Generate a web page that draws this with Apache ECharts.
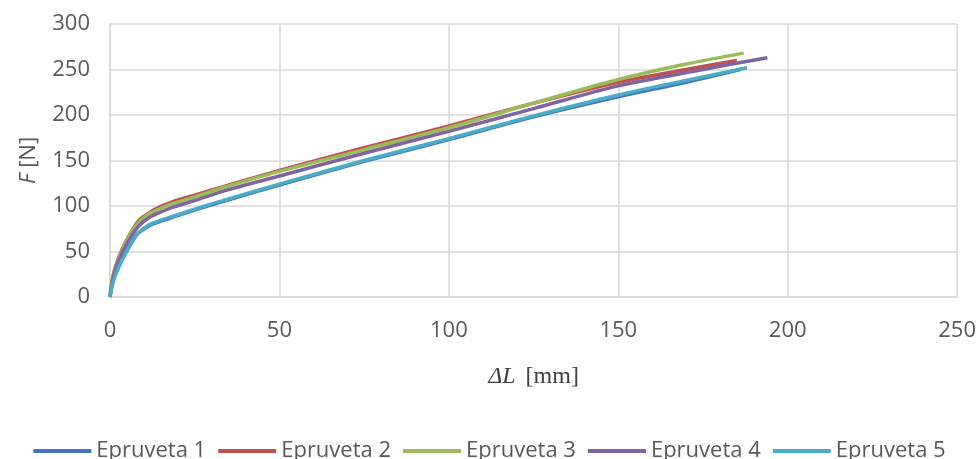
<!DOCTYPE html>
<html>
<head>
<meta charset="utf-8">
<script src="https://cdn.jsdelivr.net/npm/echarts@6/dist/echarts.min.js"></script>
<style>html,body{margin:0;padding:0;background:#fff;}#c{width:979px;height:459px;}</style>
</head>
<body>
<div id="c"></div>
<script>
const seriesNames = ['Epruveta 1', 'Epruveta 2', 'Epruveta 3', 'Epruveta 4', 'Epruveta 5'];
const xTicks = [0, 50, 100, 150, 200, 250];
const yTicks = [0, 50, 100, 150, 200, 250, 300];

const ep1 = [[0,0],[0.5,11],[1.5,24],[3.5,41],[6,58],[8.3,70],[11,77],[13.2,81],[18,87],[28,99],[37,109],[50,123],[75,149],[100,173],[125,198],[150,220],[170,236],[186,250]];
const ep2 = [[0,0],[0.5,15],[1.5,32],[3.5,52],[6,70],[8.5,84],[11,91],[13.5,97],[18,104],[25,112],[35,123],[50,139],[75,164],[100,188],[125,213],[150,236],[170,250],[185,260]];
const ep3 = [[0,0],[0.5,14],[1.5,31],[3.5,51],[6,69],[8.5,82],[11,90],[13.5,95],[18,102],[25,110],[35,122],[50,138],[75,162],[100,186],[125,213],[150,239],[170,256],[187,268]];
const ep4 = [[0,0],[0.5,13],[1.5,29],[3.5,48],[6,65],[8.5,78],[11,86],[13.5,91],[18,98],[25,106],[35,118],[50,133],[75,158],[100,182],[125,207],[150,232],[175,250],[194,263]];
const ep5 = [[0,0],[0.5,10],[1.5,23],[3.5,40],[6,57],[8.3,70],[11,78],[13.2,82],[18,88],[28,100],[37,110],[50,124],[75,150],[100,174],[125,199],[150,222],[170,238],[188,252]];
const seriesData = [ep1, ep2, ep3, ep4, ep5];
const colors = ['#4472C4', '#C0504D', '#9BBB59', '#8064A2', '#4BACC6'];

const chart = echarts.init(document.getElementById('c'), null, {renderer: 'canvas'});
const font = "'Open Sans', 'Liberation Sans', sans-serif";
chart.setOption({
  animation: false,
  color: colors,
  grid: {left: 110, right: 20, top: 24, bottom: 162, containLabel: false},
  legend: {
    data: seriesNames,
    left: 'center',
    top: 435,
    icon: 'rect',
    itemWidth: 58,
    itemHeight: 4,
    itemGap: 12,
    textStyle: {fontFamily: font, fontSize: 22, color: '#595959'}
  },
  xAxis: {
    type: 'value',
    min: xTicks[0], max: xTicks[xTicks.length - 1], interval: 50,
    name: '{i|ΔL} [mm]',
    nameLocation: 'middle',
    nameGap: 68,
    nameTextStyle: {
      fontFamily: "'Liberation Serif', 'DejaVu Serif', serif", fontSize: 24, color: '#404040',
      rich: {i: {fontStyle: 'italic', fontFamily: "'Liberation Serif', serif", fontSize: 24, color: '#404040', padding: [0, 4, 0, 0]}}
    },
    axisLine: {show: true, lineStyle: {color: '#d9d9d9', width: 1.5}},
    axisTick: {show: false},
    axisLabel: {fontFamily: font, fontSize: 22, color: '#595959', margin: 23},
    splitLine: {show: true, lineStyle: {color: '#d9d9d9', width: 1.5}}
  },
  yAxis: {
    type: 'value',
    min: yTicks[0], max: yTicks[yTicks.length - 1], interval: 50,
    name: '{i|F} [N]',
    nameLocation: 'middle',
    nameGap: 70,
    nameTextStyle: {
      fontFamily: font, fontSize: 22, color: '#595959',
      rich: {i: {fontStyle: 'italic', fontFamily: font, fontSize: 22, color: '#595959'}}
    },
    axisLine: {show: true, lineStyle: {color: '#d9d9d9', width: 1.5}},
    axisTick: {show: false},
    axisLabel: {fontFamily: font, fontSize: 22, color: '#595959', margin: 20},
    splitLine: {show: true, lineStyle: {color: '#d9d9d9', width: 1.5}}
  },
  series: seriesNames.map((n, i) => ({
    name: n,
    type: 'line',
    data: seriesData[i],
    symbol: 'none',
    smooth: 0.3,
    lineStyle: {width: 3.5, color: colors[i]},
    z: 2 + i
  }))
});
</script>
</body>
</html>
